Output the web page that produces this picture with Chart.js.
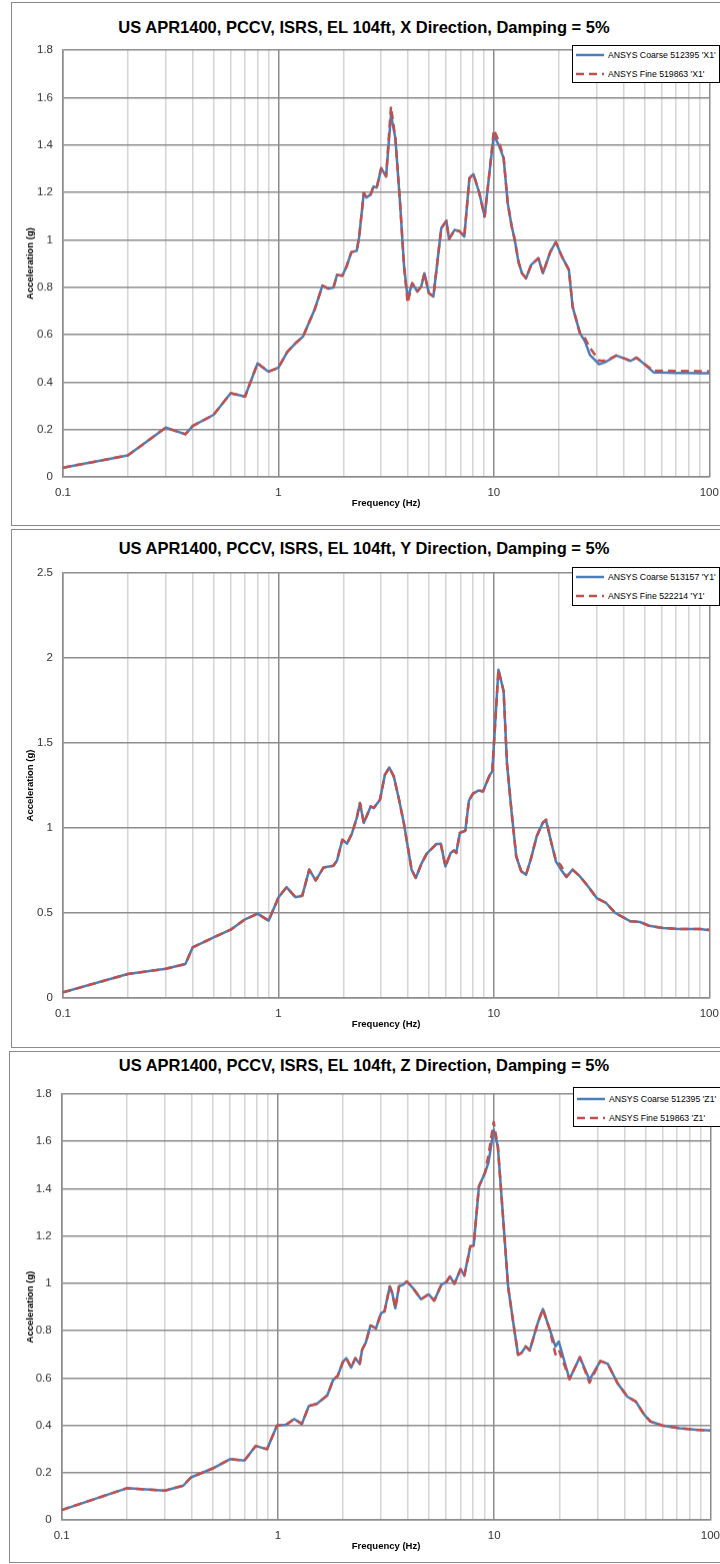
<!DOCTYPE html>
<html>
<head>
<meta charset="utf-8">
<script src="https://cdn.jsdelivr.net/npm/chart.js@4.4.0/dist/chart.umd.min.js"></script>
<style>
  html, body { margin: 0; padding: 0; background: #fff; width: 720px; height: 1564px; overflow: hidden; position: relative; }
  .box { position: absolute; border: 1px solid #8a8a8a; box-sizing: border-box; }
  canvas { position: absolute; left: 0; }
  .title { position: absolute; left: 0; width: 728px; text-align: center; font-family: "Liberation Sans", sans-serif; font-weight: bold; font-size: 16.5px; color: #000; line-height: 20px; }
  .legend { position: absolute; background: #fff; border: 1px solid #000; box-sizing: border-box; font-family: "Liberation Sans", sans-serif; font-size: 8.7px; color: #000; }
  .legend .row { position: absolute; left: 2px; height: 12px; white-space: nowrap; }
  .legend svg { position: absolute; left: 0; top: 0; }
  .legend span { position: absolute; left: 33px; top: 0; line-height: 12px; }
</style>
</head>
<body>
<div class="box" style="left:11px; top:2px; width:740px; height:524px;"></div>
<div class="box" style="left:11px; top:529px; width:740px; height:519px;"></div>
<div class="box" style="left:9px; top:1051px; width:740px; height:512px;"></div>

<canvas id="c1"></canvas>
<canvas id="c2"></canvas>
<canvas id="c3"></canvas>

<div class="title" style="top:17px;">US APR1400, PCCV, ISRS, EL 104ft, X Direction, Damping = 5%</div>
<div class="title" style="top:538px;">US APR1400, PCCV, ISRS, EL 104ft, Y Direction, Damping = 5%</div>
<div class="title" style="top:1055px;">US APR1400, PCCV, ISRS, EL 104ft, Z Direction, Damping = 5%</div>

<div class="legend" id="lg1" style="left:572px; top:45px; width:148px; height:38px;"></div>
<div class="legend" id="lg2" style="left:572px; top:567px; width:148px; height:39px;"></div>
<div class="legend" id="lg3" style="left:573px; top:1087px; width:148px; height:40px;"></div>

<script>
// ---------------- DATA ----------------
const xTickValues = [0.1, 1, 10, 100];
const xTickLabels = ['0.1', '1', '10', '100'];
const minorMultipliers = [2, 3, 4, 5, 6, 7, 8, 9];

// X direction
const freqX = [0.1,0.2,0.3,0.37,0.4,0.5,0.6,0.7,0.8,0.9,1.0,1.1,1.2,1.3,1.48,1.6,1.71,1.8,1.87,1.98,2.07,2.18,2.31,2.37,2.49,2.56,2.68,2.76,2.86,3.0,3.16,3.33,3.49,3.67,3.83,3.98,4.18,4.41,4.6,4.76,4.99,5.24,5.7,6.02,6.19,6.58,6.95,7.29,7.7,8.04,8.56,9.06,9.57,10.0,10.6,11.1,11.6,12.1,12.5,13.0,13.5,14.1,14.9,16.1,16.9,18.3,19.4,20.7,22.3,23.2,25.1,26.5,27.9,30.8,33.2,37.0,40.8,43.1,46.0,49.3,55.2,60,70,80,90,100];
const coarseX = [0.039,0.091,0.208,0.18,0.215,0.262,0.353,0.339,0.479,0.444,0.461,0.528,0.564,0.592,0.711,0.807,0.794,0.798,0.852,0.848,0.887,0.948,0.954,1.013,1.197,1.178,1.191,1.224,1.22,1.302,1.267,1.527,1.428,1.154,0.887,0.754,0.817,0.782,0.803,0.859,0.775,0.761,1.049,1.08,1.003,1.042,1.035,1.013,1.26,1.277,1.197,1.098,1.295,1.442,1.393,1.344,1.154,1.056,1.0,0.908,0.859,0.838,0.894,0.922,0.859,0.95,0.99,0.929,0.873,0.718,0.606,0.571,0.515,0.475,0.486,0.512,0.498,0.489,0.503,0.48,0.441,0.44,0.438,0.438,0.437,0.437];
const fineX = [0.039,0.091,0.208,0.18,0.215,0.262,0.353,0.339,0.479,0.444,0.461,0.528,0.564,0.592,0.711,0.807,0.794,0.798,0.852,0.848,0.887,0.948,0.954,1.013,1.197,1.178,1.191,1.224,1.22,1.302,1.267,1.562,1.428,1.154,0.887,0.733,0.817,0.782,0.803,0.859,0.775,0.761,1.049,1.08,1.003,1.042,1.035,1.013,1.26,1.277,1.197,1.098,1.295,1.464,1.41,1.344,1.154,1.056,1.0,0.908,0.859,0.838,0.894,0.922,0.859,0.95,0.99,0.929,0.873,0.718,0.606,0.585,0.545,0.49,0.49,0.512,0.498,0.489,0.503,0.48,0.448,0.448,0.447,0.447,0.446,0.446];

// Y direction
const freqY = [0.1,0.2,0.3,0.37,0.4,0.5,0.6,0.7,0.8,0.9,1.0,1.09,1.2,1.29,1.39,1.49,1.62,1.8,1.87,1.98,2.08,2.19,2.31,2.39,2.49,2.68,2.77,2.96,3.12,3.27,3.43,3.63,3.82,4.15,4.34,4.61,4.88,5.41,5.67,5.96,6.3,6.53,6.69,6.95,7.37,7.66,8.0,8.5,8.9,9.56,9.83,10.5,11.1,11.5,12.1,12.7,13.4,14.1,14.9,15.8,16.9,17.5,18.5,19.4,20.5,21.7,23.2,25.1,27.4,30.0,33.2,36.6,43.1,47.7,52.5,61,71.5,90.6,100];
const coarseY = [0.033,0.141,0.172,0.2,0.298,0.356,0.402,0.463,0.496,0.455,0.591,0.652,0.593,0.602,0.755,0.692,0.768,0.778,0.809,0.931,0.908,0.965,1.059,1.147,1.029,1.127,1.118,1.166,1.313,1.356,1.304,1.166,1.029,0.755,0.706,0.79,0.849,0.906,0.908,0.774,0.853,0.868,0.853,0.971,0.984,1.161,1.202,1.221,1.215,1.31,1.333,1.931,1.804,1.382,1.088,0.833,0.745,0.725,0.824,0.951,1.033,1.039,0.912,0.804,0.755,0.712,0.755,0.715,0.656,0.588,0.559,0.5,0.451,0.447,0.425,0.412,0.406,0.406,0.398];
const fineY = [0.033,0.141,0.172,0.2,0.298,0.356,0.402,0.463,0.496,0.455,0.591,0.652,0.593,0.602,0.755,0.692,0.768,0.778,0.809,0.931,0.908,0.965,1.059,1.147,1.029,1.127,1.118,1.166,1.313,1.356,1.304,1.166,1.029,0.755,0.706,0.79,0.849,0.906,0.908,0.774,0.853,0.868,0.853,0.971,0.984,1.161,1.202,1.221,1.215,1.31,1.333,1.931,1.804,1.382,1.088,0.833,0.745,0.725,0.824,0.951,1.033,1.05,0.912,0.81,0.78,0.712,0.755,0.715,0.656,0.588,0.559,0.5,0.451,0.447,0.425,0.412,0.406,0.406,0.402];

// Z direction
const freqZ = [0.1,0.2,0.3,0.365,0.396,0.5,0.6,0.7,0.79,0.89,0.99,1.09,1.19,1.29,1.39,1.51,1.69,1.8,1.89,2.0,2.07,2.18,2.28,2.39,2.45,2.55,2.68,2.84,3.0,3.11,3.29,3.38,3.49,3.63,3.79,3.95,4.21,4.59,4.98,5.28,5.7,6.0,6.25,6.55,6.99,7.28,7.76,8.04,8.5,9.06,9.4,9.95,10.4,10.9,11.6,12.2,12.9,13.4,14.0,14.6,15.9,16.8,18.1,19.2,19.9,22.3,24.9,27.6,31.0,33.5,37.2,41.3,45.2,49.5,52.9,59.9,72,86,100];
const coarseZ = [0.042,0.134,0.124,0.145,0.18,0.218,0.257,0.251,0.313,0.299,0.399,0.402,0.427,0.406,0.482,0.49,0.526,0.592,0.609,0.669,0.684,0.644,0.684,0.66,0.719,0.75,0.822,0.81,0.874,0.881,0.987,0.958,0.895,0.987,0.994,1.008,0.98,0.933,0.954,0.927,0.994,1.005,1.029,0.998,1.06,1.033,1.156,1.16,1.409,1.466,1.508,1.649,1.578,1.325,0.986,0.846,0.698,0.707,0.733,0.716,0.832,0.891,0.803,0.733,0.754,0.595,0.688,0.592,0.672,0.66,0.578,0.521,0.5,0.444,0.416,0.399,0.388,0.381,0.378];
const fineZ = [0.042,0.134,0.124,0.145,0.18,0.218,0.257,0.251,0.313,0.299,0.399,0.402,0.427,0.406,0.482,0.49,0.526,0.592,0.609,0.669,0.684,0.644,0.684,0.66,0.719,0.75,0.822,0.81,0.874,0.881,0.987,0.958,0.895,0.987,0.994,1.008,0.98,0.933,0.954,0.927,0.994,1.005,1.029,0.998,1.06,1.033,1.156,1.16,1.409,1.466,1.54,1.682,1.578,1.325,0.986,0.846,0.698,0.707,0.733,0.716,0.832,0.891,0.803,0.7,0.72,0.595,0.688,0.58,0.672,0.66,0.578,0.521,0.5,0.444,0.416,0.399,0.388,0.381,0.378];

const legendX = ["ANSYS Coarse 512395 'X1'", "ANSYS Fine 519863 'X1'"];
const legendY = ["ANSYS Coarse 513157 'Y1'", "ANSYS Fine 522214 'Y1'"];
const legendZ = ["ANSYS Coarse 512395 'Z1'", "ANSYS Fine 519863 'Z1'"];

const yMaxX = 1.8, yStepX = 0.2;
const yMaxY = 2.5, yStepY = 0.5;
const yMaxZ = 1.8, yStepZ = 0.2;

// ---------------- STYLE ----------------
const BLUE = '#4A7EBB';
const RED = '#C0504D';
const DASH = [8, 5];
const FONT = '"Liberation Sans", sans-serif';

function buildLegend(id, labels, rowTops) {
  const el = document.getElementById(id);
  labels.forEach((txt, i) => {
    const row = document.createElement('div');
    row.className = 'row';
    row.style.top = rowTops[i] + 'px';
    const solid = i === 0;
    row.innerHTML = '<svg width="30" height="12"><line x1="1" y1="6" x2="29" y2="6" stroke="' + (solid ? BLUE : RED) +
      '" stroke-width="2.5"' + (solid ? '' : ' stroke-dasharray="' + DASH.join(' ') + '"') + '/></svg><span></span>';
    row.querySelector('span').textContent = txt;
    el.appendChild(row);
  });
}
buildLegend('lg1', legendX, [3, 22]);
buildLegend('lg2', legendY, [3, 22]);
buildLegend('lg3', legendZ, [5, 24]);

function makeChart(id, geom, freq, coarse, fine, yMax, yStep) {
  const canvas = document.getElementById(id);
  const PADT = 12, XH = 40;
  const top = geom.T - PADT;
  const H = (geom.B - geom.T) + PADT + XH;
  canvas.width = 720; canvas.height = H;
  canvas.style.top = top + 'px';
  canvas.style.width = '720px'; canvas.style.height = H + 'px';

  const ticksArr = [];
  xTickValues.forEach((d, k) => {
    ticksArr.push({ value: d });
    if (k < xTickValues.length - 1) minorMultipliers.forEach(m => ticksArr.push({ value: +(m * d).toPrecision(6) }));
  });
  const isDecade = v => xTickValues.some(d => Math.abs(d - v) < 1e-9);

  return new Chart(canvas, {
    type: 'line',
    data: {
      datasets: [
        { label: 'fine', data: freq.map((f, i) => ({ x: f, y: fine[i] })), borderColor: RED, borderDash: DASH,
          borderWidth: 2.5, pointRadius: 0, tension: 0, order: 0, borderJoinStyle: 'round' },
        { label: 'coarse', data: freq.map((f, i) => ({ x: f, y: coarse[i] })), borderColor: BLUE,
          borderWidth: 2.5, pointRadius: 0, tension: 0, order: 1, borderJoinStyle: 'round' }
      ]
    },
    options: {
      responsive: false, animation: false, devicePixelRatio: 1,
      layout: { padding: { left: 0, right: 720 - geom.R, top: PADT, bottom: 0 } },
      plugins: { legend: { display: false }, tooltip: { enabled: false }, title: { display: false } },
      scales: {
        x: {
          type: 'logarithmic', min: 0.1, max: 100,
          afterBuildTicks: s => { s.ticks = ticksArr.map(t => ({ value: t.value })); },
          afterFit: s => { s.height = XH; },
          ticks: {
            autoSkip: false, maxRotation: 0, padding: 0, color: '#333',
            font: { family: FONT, size: 11.5 },
            callback: v => { const k = xTickValues.findIndex(d => Math.abs(d - v) < 1e-9); return k >= 0 ? xTickLabels[k] : ''; }
          },
          grid: {
            drawTicks: true, tickLength: 9, tickColor: 'rgba(0,0,0,0)',
            color: c => (c.tick && isDecade(c.tick.value)) ? '#8c8c8c' : '#d4d4d4',
            lineWidth: 1.5
          },
          border: { color: '#8c8c8c', width: 1.5 },
          title: { display: true, text: 'Frequency (Hz)', color: '#000', font: { family: FONT, size: 9.5, weight: 'bold' }, padding: { top: 0, bottom: 8 } }
        },
        y: {
          type: 'linear', min: 0, max: yMax,
          afterFit: s => { s.width = geom.L; },
          ticks: { stepSize: yStep, padding: 0, color: '#333', font: { family: FONT, size: 11.5 },
            callback: v => String(+v.toFixed(2)) },
          grid: { drawTicks: true, tickLength: 10, tickColor: 'rgba(0,0,0,0)', color: '#8c8c8c', lineWidth: 1.5 },
          border: { color: '#8c8c8c', width: 1.5 },
          title: { display: true, text: 'Acceleration (g)', color: '#000', font: { family: FONT, size: 9.5, weight: 'bold' }, padding: { top: 25, bottom: 0 } }
        }
      }
    }
  });
}

makeChart('c1', { L: 63, R: 709.3, T: 50.3, B: 476.8 }, freqX, coarseX, fineX, yMaxX, yStepX);
makeChart('c2', { L: 63, R: 709.3, T: 573.3, B: 998.3 }, freqY, coarseY, fineY, yMaxY, yStepY);
makeChart('c3', { L: 61.7, R: 711, T: 1094.3, B: 1520 }, freqZ, coarseZ, fineZ, yMaxZ, yStepZ);
</script>
</body>
</html>
